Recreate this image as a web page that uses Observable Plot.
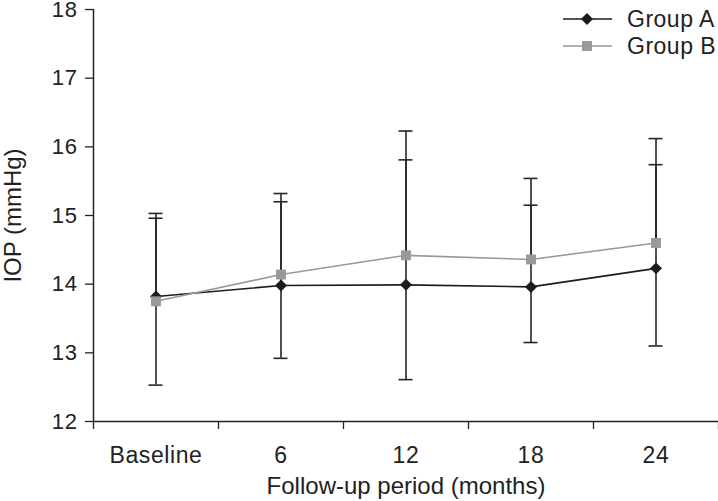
<!DOCTYPE html>
<html><head><meta charset="utf-8">
<script src="https://cdn.jsdelivr.net/npm/d3@7"></script>
<script src="https://cdn.jsdelivr.net/npm/@observablehq/plot@0.6"></script>
<style>
body{margin:0;background:#fff;}
#wrap{position:relative;width:718px;height:501px;}
#legend{position:absolute;left:0;top:0;pointer-events:none;}
.xt text{letter-spacing:0.6px;}
.yt text{letter-spacing:0.6px;}
</style></head><body><div id="wrap"></div>
<script>
const categories = ["Baseline", "6", "12", "18", "24"];
const groupA = [13.82, 13.98, 13.99, 13.96, 14.23];
const groupB = [13.75, 14.14, 14.42, 14.36, 14.60];
const lowerA = [12.53, 12.92, 12.61, 13.15, 13.10];
const upperA = [14.96, 15.20, 15.81, 15.15, 15.74];
const upperB = [15.03, 15.32, 16.23, 15.54, 16.12];
const yTicks = [12, 13, 14, 15, 16, 17, 18];
const seriesNames = ["Group A", "Group B"];

const colA = "#1c1c1c", colB = "#999999", barCol = "#262626";
const font = "'Liberation Sans', Arial, Helvetica, sans-serif";

const rows = categories.map((c, i) => ({
  i: i + 0.5, cat: c, a: groupA[i], b: groupB[i],
  lo: lowerA[i], hiA: upperA[i], hiB: upperB[i]
}));
const capHalf = 0.056;
const caps = rows.flatMap(r => [
  {i: r.i, v: r.lo}, {i: r.i, v: r.hiA}, {i: r.i, v: r.hiB}
]);
const boundaryTicks = d3.range(categories.length + 1);
const centerTicks = categories.map((c, i) => i + 0.5);

const chart = Plot.plot({
  width: 718, height: 501,
  marginLeft: 93, marginRight: 0, marginTop: 9, marginBottom: 80,
  style: {fontFamily: font, fontSize: "23px", color: "#222", background: "#fff", overflow: "visible"},
  x: {domain: [0, categories.length]},
  y: {domain: [12, 18]},
  marks: [
    Plot.ruleX(rows, {x: "i", y1: "lo", y2: "hiA", stroke: barCol, strokeWidth: 1.6}),
    Plot.ruleX(rows, {x: "i", y1: "b", y2: "hiB", stroke: barCol, strokeWidth: 1.6}),
    Plot.ruleY(caps, {y: "v", x1: d => d.i - capHalf, x2: d => d.i + capHalf, stroke: barCol, strokeWidth: 1.6}),
    Plot.line(rows, {x: "i", y: "a", stroke: colA, strokeWidth: 1.6}),
    Plot.line(rows, {x: "i", y: "b", stroke: colB, strokeWidth: 1.6}),
    Plot.dot(rows, {x: "i", y: "a", symbol: "diamond2", r: 5.4, fill: colA, stroke: "none"}),
    Plot.dot(rows, {x: "i", y: "b", symbol: "square", r: 5.6, fill: colB, stroke: "none"}),
    Plot.axisY({ticks: yTicks, tickSize: 8, tickPadding: 8, tickFormat: d3.format("d"), fontSize: 22,
      className: "yt", stroke: "#222", strokeWidth: 1.3, label: null}),
    Plot.axisY({ticks: [], tickSize: 0, fontSize: 24, className: "ylab",
      label: "IOP (mmHg)", labelAnchor: "center", labelArrow: "none", labelOffset: 90}),
    Plot.axisX({ticks: boundaryTicks, tickSize: 8, tickFormat: () => "", stroke: "#222", strokeWidth: 1.3, label: null}),
    Plot.axisX({ticks: centerTicks, tickSize: 0, tickPadding: 25, fontSize: 23, className: "xt",
      tickFormat: d => categories[Math.round(d - 0.5)], label: null}),
    Plot.axisX({ticks: [], tickSize: 0, fontSize: 24, className: "xlab",
      label: "Follow-up period (months)", labelAnchor: "center", labelArrow: "none", labelOffset: 72}),
    Plot.ruleX([0], {stroke: "#222", strokeWidth: 1.5}),
    Plot.ruleY([12], {stroke: "#222", strokeWidth: 1.5})
  ]
});
const wrap = document.getElementById("wrap");
wrap.appendChild(chart);
d3.select(chart).selectAll(".ylab text").style("letter-spacing", "1px");
d3.select(chart).selectAll(".xlab text").style("letter-spacing", "0.3px");

// legend overlay
const leg = d3.select(wrap).append("svg").attr("id", "legend")
  .attr("width", 718).attr("height", 501);
const legendItems = [
  {name: seriesNames[0], color: colA, sym: d3.symbolDiamond2, size: 5.4 * 5.4 * Math.PI, cy: 19},
  {name: seriesNames[1], color: colB, sym: d3.symbolSquare, size: 5.6 * 5.6 * Math.PI, cy: 46}
];
legendItems.forEach(it => {
  const g = leg.append("g").attr("transform", `translate(0,${it.cy})`);
  g.append("line").attr("x1", 563).attr("x2", 612).attr("y1", 0).attr("y2", 0)
    .attr("stroke", it.color).attr("stroke-width", 1.6);
  g.append("path").attr("d", d3.symbol(it.sym, it.size)()).attr("transform", "translate(587,0)")
    .attr("fill", it.color);
  g.append("text").attr("x", 627).attr("y", 8).text(it.name)
    .attr("font-family", font).attr("font-size", 23).attr("letter-spacing", "0.5px").attr("fill", "#222");
});
</script></body></html>
